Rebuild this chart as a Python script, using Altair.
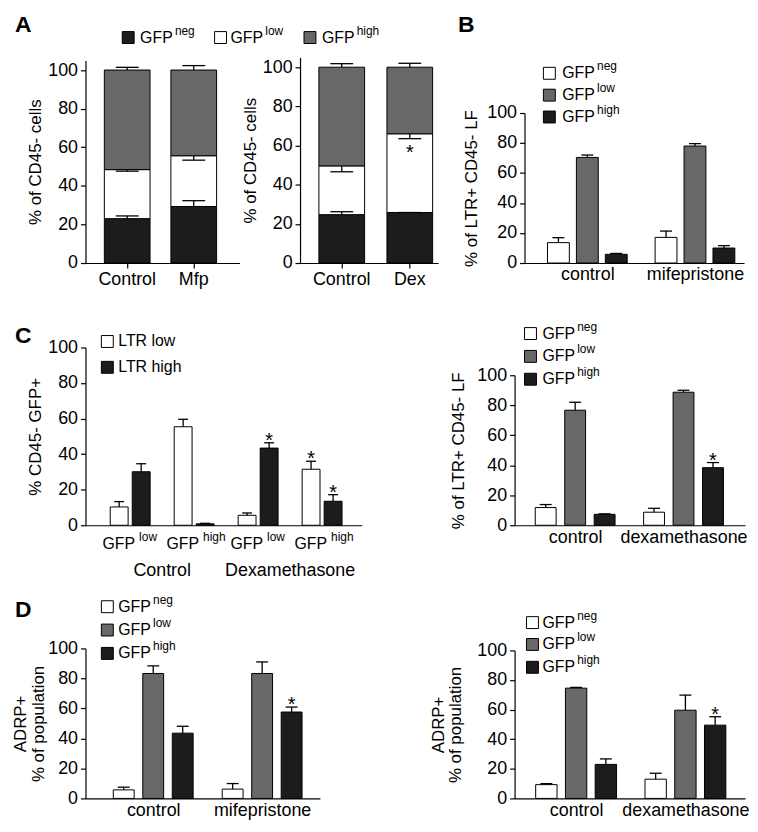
import altair as alt
import pandas as pd

FONT = "Liberation Sans"
BLACK = "#1c1c1c"
GRAY = "#686868"
WHITE = "#ffffff"

# ---------------- data ----------------
# Panel A : stacked % of CD45- cells
a_segments = ["neg", "low", "high"]
a_colors = [BLACK, WHITE, GRAY]
a1_cond = ["Control", "Mfp"]
a1_neg = [23.0, 29.3]
a1_low = [25.4, 26.3]
a1_high = [51.6, 44.4]
a1_neg_err = [24.4, 32.3]
a1_low_err = [47.6, 53.3]
a1_high_err = [101.4, 102.3]

a2_cond = ["Control", "Dex"]
a2_neg = [24.7, 25.8]
a2_low = [24.9, 40.2]
a2_high = [50.4, 34.0]
a2_neg_err = [26.2, 25.8]
a2_low_err = [46.6, 63.5]
a2_high_err = [101.8, 102.0]
a2_low_star = ["", "*"]

# GFP series used in B, C (right), D
gfp_series = ["neg", "low", "high"]
gfp_colors = [WHITE, GRAY, BLACK]

# Panel B
b_groups = ["control", "mifepristone"]
b_neg = [13.6, 17.1]
b_neg_err = [16.9, 21.3]
b_low = [70.4, 78.0]
b_low_err = [72.0, 79.6]
b_high = [5.8, 10.0]
b_high_err = [6.4, 11.6]

# Panel C left
c1_groups = ["Control|low", "Control|high", "Dex|low", "Dex|high"]
c1_sup = ["low", "high", "low", "high"]
c1_cond_labels = ["Control", "Dexamethasone"]
ltr_series = ["LTR low", "LTR high"]
ltr_colors = [WHITE, BLACK]
c1_ltr_low = [10.3, 55.4, 5.6, 31.5]
c1_ltr_low_err = [13.3, 59.6, 6.9, 36.0]
c1_ltr_low_star = ["", "", "", "*"]
c1_ltr_high = [30.1, 0.8, 43.4, 13.5]
c1_ltr_high_err = [34.6, 1.1, 46.4, 17.2]
c1_ltr_high_star = ["", "", "*", "*"]

# Panel C right
c2_groups = ["control", "dexamethasone"]
c2_neg = [11.8, 8.7]
c2_neg_err = [13.8, 11.3]
c2_low = [76.7, 88.7]
c2_low_err = [82.0, 90.0]
c2_high = [7.3, 38.4]
c2_high_err = [7.6, 41.8]
c2_high_star = ["", "*"]

# Panel D left
d1_groups = ["control", "mifepristone"]
d1_neg = [5.7, 6.2]
d1_neg_err = [7.5, 9.9]
d1_low = [83.3, 83.3]
d1_low_err = [88.4, 91.0]
d1_high = [43.5, 57.6]
d1_high_err = [48.1, 60.9]
d1_high_star = ["", "*"]

# Panel D right
d2_groups = ["control", "dexamethasone"]
d2_neg = [9.3, 13.0]
d2_neg_err = [9.9, 17.0]
d2_low = [74.5, 59.6]
d2_low_err = [75.0, 69.8]
d2_high = [23.0, 49.5]
d2_high_err = [26.7, 55.2]
d2_high_star = ["", "*"]

y_ticks = [0, 20, 40, 60, 80, 100]


# ---------------- helpers ----------------
def stacked_df(conds, vals, errs, stars_low=None):
    rows = []
    for i, c in enumerate(conds):
        bottom = 0.0
        for k, seg in enumerate(a_segments):
            v = vals[k][i]
            top = bottom + v
            star = stars_low[i] if (seg == "low" and stars_low) else ""
            rows.append(dict(cond=c, seg=seg, fill=a_colors[k], bottom=bottom, top=top,
                             err=errs[k][i], star=star))
            bottom = top
    return pd.DataFrame(rows)


def grouped_df(groups, series, colors, vals, errs, stars, dodge):
    """dodge = distance between neighbouring bars, in units of one group step"""
    rows = []
    k = len(series)
    for j, s in enumerate(series):
        for i, g in enumerate(groups):
            rows.append(dict(grp=g, gi=i, ser=s, fill=colors[j],
                             pos=i + (j - (k - 1) / 2) * dodge,
                             val=vals[j][i], err=errs[j][i], star=stars[j][i]))
    return pd.DataFrame(rows)


def band_scale(domain, axis_len, c0, step, bw):
    n = len(domain)
    pi = 1 - bw / step
    po = max(0.0, (axis_len / step - n + pi) / 2)
    L = axis_len - step * (n - pi)
    a = min(1.0, max(0.0, (c0 - bw / 2) / L)) if L > 0 else 0.5
    return alt.Scale(domain=domain, range=[0, axis_len], paddingInner=pi,
                     paddingOuter=po, align=a)


def y_axis(title, title_pad, offset=0):
    return alt.Axis(values=y_ticks, title=title, grid=False, tickSize=5, tickWidth=1.2,
                    tickColor="black", domainColor="black", domainWidth=1.2,
                    labelFontSize=18, labelFont=FONT, labelColor="black", labelPadding=3,
                    titleFont=FONT, titleFontSize=17, titleFontWeight="normal",
                    titleColor="black", titlePadding=title_pad, titleLineHeight=18,
                    offset=offset)


def legend_layers(items, sq_x, centers, text_x, sq=12, fsize=16, sup_size=12,
                  sup_dx=35, sup_dy=-7):
    layers = []
    for (label, sup, color), yc in zip(items, centers):
        d = alt.Chart(pd.DataFrame({"label": [label], "sup": [sup]}))
        layers.append(d.mark_rect(fill=color, stroke="black", strokeWidth=1).encode(
            x=alt.value(sq_x), x2=alt.value(sq_x + sq),
            y=alt.value(yc - sq / 2), y2=alt.value(yc + sq / 2)))
        layers.append(d.mark_text(align="left", baseline="middle", font=FONT,
                                  fontSize=fsize, color="black").encode(
            x=alt.value(text_x), y=alt.value(yc), text="label:N"))
        if sup:
            layers.append(d.mark_text(align="left", baseline="middle", font=FONT,
                                      fontSize=sup_size, color="black").encode(
                x=alt.value(text_x + sup_dx), y=alt.value(yc + sup_dy), text="sup:N"))
    return layers


def letter(ch, x, y):
    return alt.Chart(pd.DataFrame({"t": [ch]})).mark_text(
        align="left", baseline="top", font=FONT, fontSize=23, fontWeight="bold",
        color="black").encode(x=alt.value(x), y=alt.value(y), text="t:N")


def stacked_panel(df, conds, W, axis_len, H, yrange, c0, step, bw, title, tpad, extra):
    xs = band_scale(conds, axis_len, c0, step, bw)
    X = alt.X("cond:N", scale=xs, sort=conds, axis=alt.Axis(
        title=None, labelAngle=0, ticks=True, tickSize=5, tickWidth=1.2, tickColor="black",
        domainColor="black", domainWidth=1.2, labelFontSize=18, labelFont=FONT,
        labelColor="black", labelPadding=3))
    ysc = alt.Scale(domain=[0, 105], range=yrange, nice=False)
    yax = y_axis(title, tpad)

    def Y(f):
        return alt.Y(f, scale=ysc, axis=yax)

    base = alt.Chart(df)
    bars = base.mark_bar(stroke="black", strokeWidth=1).encode(
        x=X, y=Y("top:Q"), y2="bottom:Q", color=alt.Color("fill:N", scale=None))
    rules = base.mark_rule(color="black", strokeWidth=1.3).encode(x=X, y=Y("top:Q"), y2="err:Q")
    caps = base.mark_tick(color="black", thickness=1.3, size=23, opacity=1).encode(
        x=X, y=Y("err:Q"))
    stars = base.transform_filter(alt.datum.star != "").mark_text(
        font=FONT, fontSize=20, baseline="alphabetic", dy=20, color="black").encode(
        x=X, y=Y("err:Q"), text="star:N")
    return alt.layer(bars, rules, caps, stars, *extra).properties(width=W, height=H)


def grouped_panel(df, groups, W, axis_len, H, yrange, c0, step, bar_w, cap,
                  title, tpad, extra, show_labels=True, x0=0):
    # linear position scale: group i is centred at c0 + i*step pixels from the y axis
    xsc = alt.Scale(domain=[-c0 / step, (axis_len - c0) / step], range=[x0, x0 + axis_len],
                    nice=False, zero=False)
    names = ",".join("'%s'" % g for g in groups)
    xax = alt.Axis(title=None, values=list(range(len(groups))), grid=False, ticks=False,
                   tickSize=0, domainColor="black", domainWidth=1.2, labelFontSize=18,
                   labelFont=FONT, labelColor="black", labelPadding=3, labels=show_labels,
                   labelExpr="[%s][datum.value]" % names)

    def X(f):
        return alt.X(f, scale=xsc, axis=xax)

    ysc = alt.Scale(domain=[0, 100], range=yrange, nice=False)
    yax = y_axis(title, tpad, -x0)

    def Y(f):
        return alt.Y(f, scale=ysc, axis=yax)

    base = alt.Chart(df)
    bars = base.mark_bar(stroke="black", strokeWidth=1, width=bar_w).encode(
        x=X("pos:Q"), y=Y("val:Q"), y2=alt.datum(0), color=alt.Color("fill:N", scale=None))
    rules = base.mark_rule(color="black", strokeWidth=1.3).encode(
        x=X("pos:Q"), y=Y("val:Q"), y2="err:Q")
    caps = base.mark_tick(color="black", thickness=1.3, size=cap, opacity=1,
                          orient="horizontal").encode(x=X("pos:Q"), y=Y("err:Q"))
    stars = base.transform_filter(alt.datum.star != "").mark_text(
        font=FONT, fontSize=20, baseline="alphabetic", dy=4, color="black").encode(
        x=X("pos:Q"), y=Y("err:Q"), text="star:N")
    layers = [bars, rules, caps, stars]
    for e in extra:
        layers.append(e(X) if callable(e) else e)
    return alt.layer(*layers).properties(width=W, height=H)


def spacer(w):
    return alt.Chart(pd.DataFrame({"d": [0]})).mark_point(opacity=0, size=0).encode(
        x=alt.value(0), y=alt.value(0)).properties(width=w, height=1)


gfp_items = [("GFP", "neg", WHITE), ("GFP", "low", GRAY), ("GFP", "high", BLACK)]

COL1 = 155   # view width of column 1 (A left, C left, D left)
COL2 = 155   # view width of column 2 (A right)
LX = -71     # panel letter x, relative to the left plot of each row
LY = -44     # letter A / B top, relative to row 1 plots

# ---------------- row 1 : A + B ----------------
H1 = 207
dfA1 = stacked_df(a1_cond, [a1_neg, a1_low, a1_high], [a1_neg_err, a1_low_err, a1_high_err])
dfA2 = stacked_df(a2_cond, [a2_neg, a2_low, a2_high], [a2_neg_err, a2_low_err, a2_high_err],
                  a2_low_star)

a_leg = []
for (lab, sup, col), sx, tx in zip([("GFP", "neg", BLACK), ("GFP", "low", WHITE),
                                     ("GFP", "high", GRAY)], [37, 130, 220], [55, 146, 238]):
    a_leg += legend_layers([(lab, sup, col)], sx, [-20], tx)

A1 = stacked_panel(dfA1, a1_cond, COL1, 155, H1, [H1, 3], 42, 67, 46,
                   "% of CD45- cells", 3, [letter("A", LX, LY)] + a_leg)
A2 = stacked_panel(dfA2, a2_cond, COL2, 139, H1, [H1, 0], 42, 68.5, 46,
                   "% of CD45- cells", 3, [])

B_STEP = 113.5
dfB = grouped_df(b_groups, gfp_series, gfp_colors, [b_neg, b_low, b_high],
                 [b_neg_err, b_low_err, b_high_err], [["", ""]] * 3, 30.5 / B_STEP)
B = grouped_panel(dfB, b_groups, 231, 221, H1, [H1, 56], 61, B_STEP, 22, 12,
                  "% of LTR+ CD45- LF", 6,
                  [letter("B", -57, LY)] + legend_layers(gfp_items, 29, [16, 38, 60], 48),
                  x0=10)

# ---------------- row 2 : C ----------------
H2 = 179
C1_STEP = 66.8
dfC1 = grouped_df(c1_groups, ltr_series, ltr_colors, [c1_ltr_low, c1_ltr_high],
                  [c1_ltr_low_err, c1_ltr_high_err], [c1_ltr_low_star, c1_ltr_high_star],
                  23 / C1_STEP)
c1_axis_df = pd.DataFrame({"gi": list(range(len(c1_groups))), "main": ["GFP"] * 4,
                           "sup": c1_sup})
c1_cond_df = pd.DataFrame({"cpos": [0.5, 2.5], "cond": c1_cond_labels})


def c1_main(X):
    return alt.Chart(c1_axis_df).mark_text(align="right", baseline="middle", font=FONT,
                                           fontSize=16, dx=5, color="black").encode(
        x=X("gi:Q"), y=alt.value(H2 + 19), text="main:N")


def c1_sup_l(X):
    return alt.Chart(c1_axis_df).mark_text(align="left", baseline="middle", font=FONT,
                                           fontSize=12, dx=9, color="black").encode(
        x=X("gi:Q"), y=alt.value(H2 + 12), text="sup:N")


def c1_cond(X):
    return alt.Chart(c1_cond_df).mark_text(
        align="center", baseline="middle", font=FONT, fontSize=18,
        color="black").encode(x=X("cpos:Q"), y=alt.value(H2 + 46), text="cond:N")


C1 = grouped_panel(dfC1, c1_groups, COL1, 278, H2, [H2, 0], 41.5, C1_STEP, 18, 10,
                   "% CD45- GFP+", 3,
                   [letter("C", LX, -22)]
                   + legend_layers([("LTR low", "", WHITE), ("LTR high", "", BLACK)],
                                   16, [-6, 20], 33)
                   + [c1_main, c1_sup_l, c1_cond], show_labels=False)

C2_STEP = 114
dfC2 = grouped_df(c2_groups, gfp_series, gfp_colors, [c2_neg, c2_low, c2_high],
                  [c2_neg_err, c2_low_err, c2_high_err], [["", ""], ["", ""], c2_high_star],
                  31 / C2_STEP)
C2 = grouped_panel(dfC2, c2_groups, 232, 232, H2, [H2, 28], 58.5, C2_STEP, 21, 12,
                   "% of LTR+ CD45- LF", 9,
                   legend_layers(gfp_items, 10, [-14, 9, 32], 28))

# ---------------- row 3 : D ----------------
H3 = 190
D1_STEP = 114.5
dfD1 = grouped_df(d1_groups, gfp_series, gfp_colors, [d1_neg, d1_low, d1_high],
                  [d1_neg_err, d1_low_err, d1_high_err], [["", ""], ["", ""], d1_high_star],
                  31 / D1_STEP)
D1 = grouped_panel(dfD1, d1_groups, COL1, 236, H3, [H3, 39], 66, D1_STEP, 21, 12,
                   ["ADRP+", "% of population"], 0,
                   [letter("D", LX, -11)] + legend_layers(gfp_items, 16, [-3, 20.5, 44], 33))

D2_STEP = 115
dfD2 = grouped_df(d2_groups, gfp_series, gfp_colors, [d2_neg, d2_low, d2_high],
                  [d2_neg_err, d2_low_err, d2_high_err], [["", ""], ["", ""], d2_high_star],
                  31.3 / D2_STEP)
D2 = grouped_panel(dfD2, d2_groups, 232, 232, H3, [H3, 41], 59.5, D2_STEP, 21.5, 12,
                   ["ADRP+", "% of population"], 12,
                   legend_layers(gfp_items, 12, [13, 35, 58], 28))

chart = alt.concat(
    A1, A2, B,
    C1, spacer(1), C2,
    D1, spacer(1), D2,
    columns=3, spacing={"row": 85, "column": 61}, bounds="flush", align="each",
).properties(
    padding={"left": 3, "top": 3, "right": 0, "bottom": 0},
    background="white",
).configure(font=FONT).configure_view(stroke="transparent", strokeWidth=0)

chart.save("out.html", embed_options={"renderer": "svg", "actions": False})
